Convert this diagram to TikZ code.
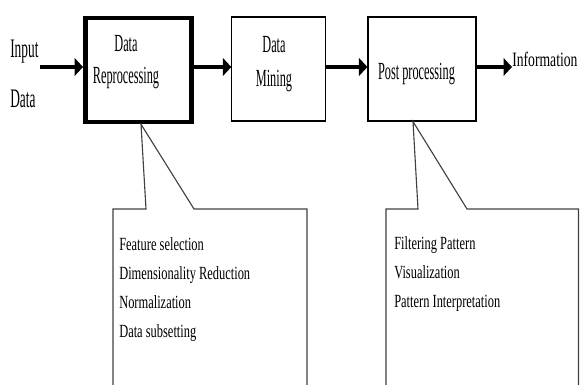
\documentclass[tikz,border=0pt]{standalone}
\usepackage{fontspec}
\setmainfont{Liberation Serif}
\newfontfamily\boxfont[FakeStretch=0.5]{Liberation Serif}
\newfontfamily\notefont[FakeStretch=0.67]{Liberation Serif}
\usetikzlibrary{arrows.meta}

\begin{document}
\begin{tikzpicture}[x=0.025cm,y=-0.025cm,
    stage/.style={draw,minimum width=#1,minimum height=2.6cm,inner sep=0pt},
    flow/.style={line width=2.9pt,-{Triangle[length=6pt,width=12.5pt]}},
    boxtext/.style={font=\boxfont\fontsize{17.5}{22.5}\selectfont,align=center,inner sep=0pt},
    side/.style={font=\boxfont\fontsize{19}{23}\selectfont,inner sep=0pt,anchor=base west},
    notetext/.style={font=\notefont\fontsize{13.2}{20.6}\selectfont,align=left,inner sep=0pt,anchor=north west},
    callout/.style={draw=black!75,line width=0.8pt}]
            \useasboundingbox (0,0) rectangle (580,385);
            \node[stage=2.66cm,line width=3.2pt] (prep) at (138.5,70) {};
            \node[stage=2.33cm,line width=0.8pt] (mine) at (278.5,69) {};
            \node[stage=2.7cm,line width=0.8pt] (post) at (422,69) {};
            \node[boxtext,anchor=north] (preptext) at (126,35) {Data\\Reprocessing};
            \node[boxtext,anchor=north] (minetext) at (274,36) {Data\\[2pt]Mining};
            \node[boxtext,anchor=base] (posttext) at (416.5,80) {Post processing};
            \node[side] (input) at (10,58) {Input};
            \node[side] (data) at (10,108) {Data};
            \node[side,font=\notefont\fontsize{14.5}{17}\selectfont] (info) at (512,67) {Information};
            \coordinate (start) at (40,67);
            \draw[flow] (start) -- (start -| prep.west);
            \draw[flow] (prep.east |- start) -- (mine.west |- start);
            \draw[flow] (mine.east |- start) -- (post.west |- start);
            \draw[flow] (post.east |- start) -- (info.west |- start);
            % callouts under the first and last stage
            \draw[callout] (113,390) |- (146,209) -- (prep.south -| 141,0) -- (194,209) -| (307,390);
            \draw[callout] (386,390) |- (418,209) -- (post.south -| 413,0) -- (467,209) -| (578.5,390);
            \node[notetext] (prepnote) at (119,237) {Feature selection\\Dimensionality Reduction\\Normalization\\Data subsetting};
            \node[notetext] (postnote) at (394,236) {Filtering Pattern\\Visualization\\Pattern Interpretation};
        \end{tikzpicture}
\end{document}
